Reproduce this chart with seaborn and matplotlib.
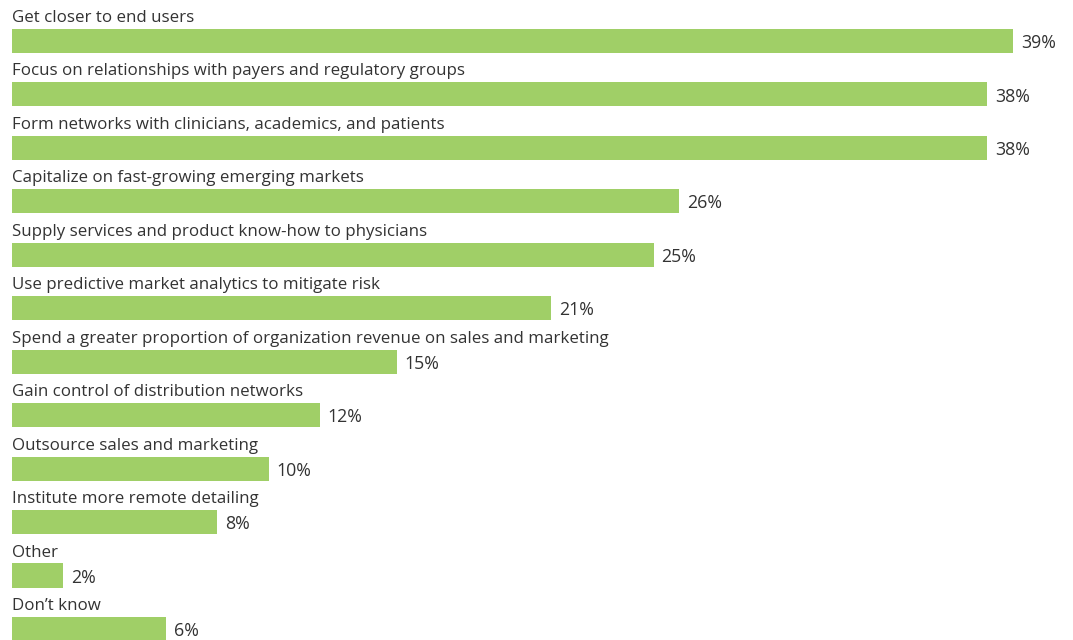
import matplotlib
matplotlib.use("Agg")
import matplotlib.pyplot as plt
import seaborn as sns
import pandas as pd

categories = [
    "Get closer to end users",
    "Focus on relationships with payers and regulatory groups",
    "Form networks with clinicians, academics, and patients",
    "Capitalize on fast-growing emerging markets",
    "Supply services and product know-how to physicians",
    "Use predictive market analytics to mitigate risk",
    "Spend a greater proportion of organization revenue on sales and marketing",
    "Gain control of distribution networks",
    "Outsource sales and marketing",
    "Institute more remote detailing",
    "Other",
    "Don\u2019t know",
]
values = [39, 38, 38, 26, 25, 21, 15, 12, 10, 8, 2, 6]

BAR_COLOR = "#A0CF67"
TEXT_COLOR = "#333333"

sns.set_theme(style="white")
plt.rcParams["font.family"] = ["Open Sans", "DejaVu Sans"]

df = pd.DataFrame({"category": categories, "value": values})

fig = plt.figure(figsize=(10.73, 6.4), dpi=100)
ax = fig.add_axes([12 / 1073, 0, 1 - 12 / 1073, 1])

sns.barplot(data=df, x="value", y="category", orient="h", color=BAR_COLOR,
            saturation=1, width=0.45, linewidth=0, edgecolor="none", ax=ax)

ax.set_xlim(0, 1061 / 25.67)
ax.set_ylim(11.207, -0.767)

for i, (cat, val) in enumerate(zip(categories, values)):
    ax.text(0, i - 0.43, cat, ha="left", va="center", fontsize=12.2,
            color=TEXT_COLOR)
    ax.text(val + 0.3, i + 0.04, f"{val}%", ha="left", va="center",
            fontsize=12.8, color=TEXT_COLOR)

ax.set_xlabel("")
ax.set_ylabel("")
ax.set_xticks([])
ax.set_yticks([])
for s in ax.spines.values():
    s.set_visible(False)

fig.savefig("out.png", dpi=100)
